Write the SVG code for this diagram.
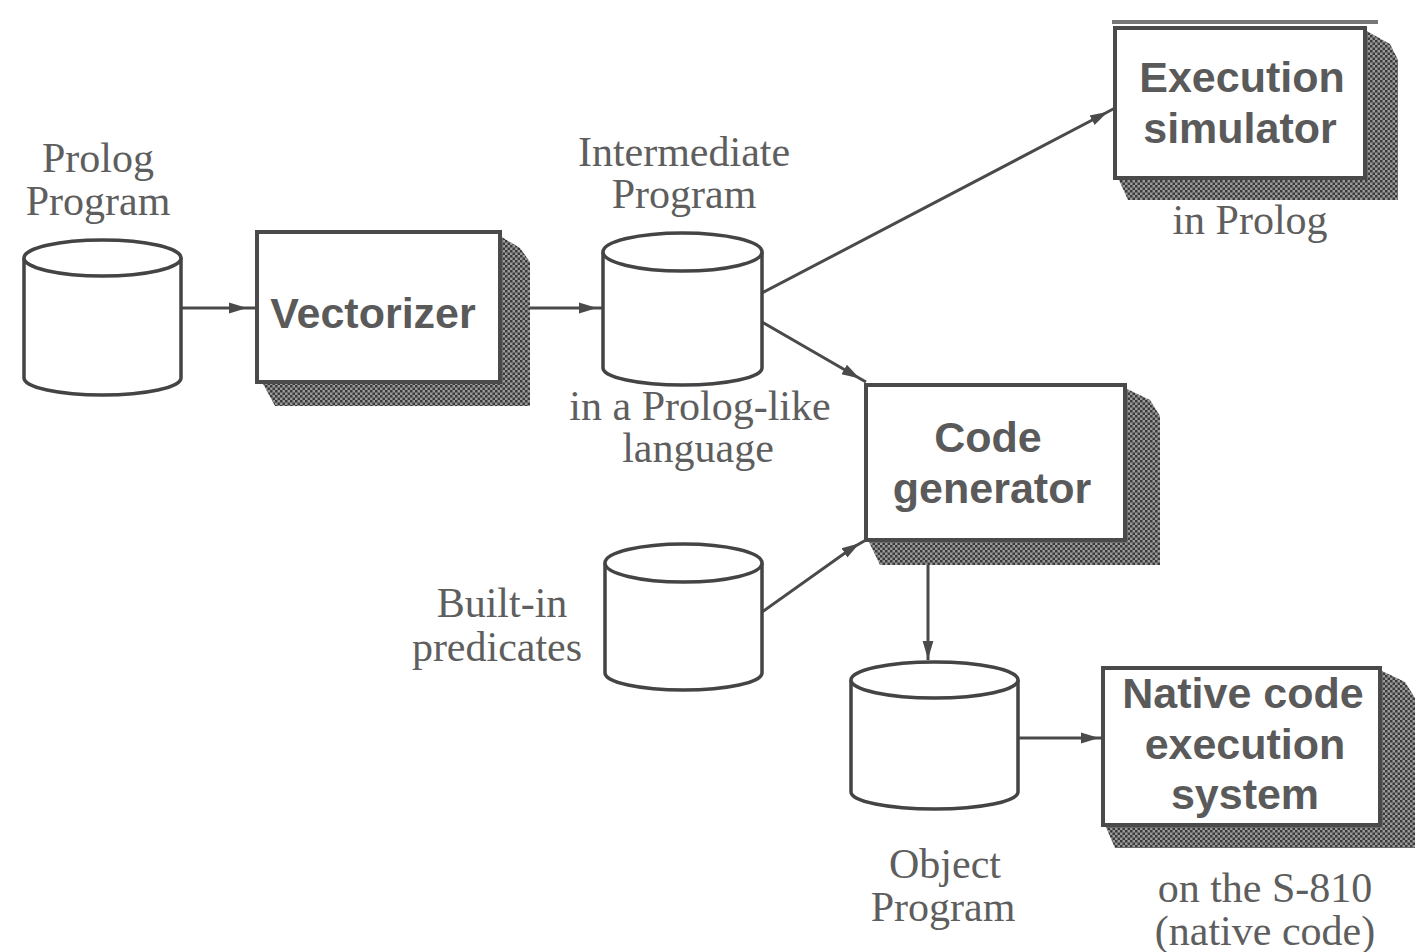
<svg xmlns="http://www.w3.org/2000/svg" width="1418" height="952" viewBox="0 0 1418 952">
<style>
.cyl{fill:#fff;stroke:#444;stroke-width:3.5}
.box{fill:#fff;stroke:#4a4a4a;stroke-width:4}
.shadow{fill:url(#dots);stroke:none}
.con{fill:none;stroke:#4a4a4a;stroke-width:3;marker-mid:url(#ah)}
.serif{font-family:"Liberation Serif","DejaVu Serif",serif;font-size:42px;fill:#5e5e5e;text-anchor:middle}
.sans{font-family:"Liberation Sans",Arial,sans-serif;font-size:43px;font-weight:bold;fill:#5a5a5a;text-anchor:middle}
</style>
<defs>
<pattern id="dots" width="5" height="5" patternUnits="userSpaceOnUse">
<rect width="5" height="5" fill="#9a9a9a"/>
<rect width="2.5" height="2.5" fill="#3a3a3a"/>
<rect x="2.5" y="2.5" width="2.5" height="2.5" fill="#3a3a3a"/>
</pattern>
<marker id="ah" viewBox="0 0 10 10" refX="5" refY="5" markerWidth="6" markerHeight="6" orient="auto" markerUnits="strokeWidth">
<path d="M0,2 L10,5 L0,8 Z" fill="#4a4a4a"/>
</marker>
</defs>
<rect width="1418" height="952" fill="#fff"/>

<g id="connectors">
<path class="con" d="M181,308 L238,308 L257,308"/>
<path class="con" d="M500,308 L588,308 L603,308"/>
<path class="con" d="M762,293 L1100,116 L1115,108"/>
<path class="con" d="M762,322 L852,374 L866,382"/>
<path class="con" d="M762,612 L852,548 L866,540"/>
<path class="con" d="M928,540 L928,650 L928,660"/>
<path class="con" d="M1018,738 L1090,738 L1103,738"/>
</g>

<g id="prolog-program">
<path class="cyl" d="M24,258 L24,378 A78.5,17 0 0 0 181,378 L181,258"/>
<ellipse class="cyl" cx="102.5" cy="258" rx="78.5" ry="18"/>
<text class="serif" x="98" y="172">Prolog</text>
<text class="serif" x="98" y="215">Program</text>
</g>

<g id="vectorizer">
<polygon class="shadow" points="500,236 520,248 530,262 530,406 275,406 262,382"/>
<rect class="box" x="257" y="232" width="243" height="150"/>
<text class="sans" x="373" y="328">Vectorizer</text>
</g>

<g id="intermediate-program">
<path class="cyl" d="M603,252 L603,368 A79.5,17 0 0 0 762,368 L762,252"/>
<ellipse class="cyl" cx="682.5" cy="252" rx="79.5" ry="19"/>
<text class="serif" x="684" y="166">Intermediate</text>
<text class="serif" x="684" y="208">Program</text>
<text class="serif" x="700" y="420">in a Prolog-like</text>
<text class="serif" x="698" y="462">language</text>
</g>

<g id="execution-simulator">
<line x1="1112" y1="22" x2="1378" y2="22" stroke="#777" stroke-width="4"/>
<polygon class="shadow" points="1365,30 1390,44 1398,60 1398,200 1128,200 1118,178"/>
<rect class="box" x="1115" y="28" width="250" height="150"/>
<text class="sans" x="1242" y="92">Execution</text>
<text class="sans" x="1240" y="143">simulator</text>
<text class="serif" x="1250" y="234">in Prolog</text>
</g>

<g id="code-generator">
<polygon class="shadow" points="1125,388 1150,400 1160,416 1160,565 880,565 868,540"/>
<rect class="box" x="866" y="385" width="259" height="155"/>
<text class="sans" x="988" y="452">Code</text>
<text class="sans" x="992" y="503">generator</text>
</g>

<g id="built-in-predicates">
<path class="cyl" d="M605,563 L605,673 A78.5,17 0 0 0 762,673 L762,563"/>
<ellipse class="cyl" cx="683.5" cy="563" rx="78.5" ry="19"/>
<text class="serif" x="502" y="617">Built-in</text>
<text class="serif" x="497" y="661">predicates</text>
</g>

<g id="object-program">
<path class="cyl" d="M851,680 L851,792 A83.5,17 0 0 0 1018,792 L1018,680"/>
<ellipse class="cyl" cx="934.5" cy="680" rx="83.5" ry="18"/>
<text class="serif" x="945" y="878">Object</text>
<text class="serif" x="943" y="921">Program</text>
</g>

<g id="native-code-execution-system">
<polygon class="shadow" points="1380,670 1405,682 1415,698 1415,848 1115,848 1105,825"/>
<rect class="box" x="1103" y="668" width="277" height="157"/>
<text class="sans" x="1243" y="708">Native code</text>
<text class="sans" x="1245" y="759">execution</text>
<text class="sans" x="1245" y="809">system</text>
<text class="serif" x="1265" y="902">on the S-810</text>
<text class="serif" x="1265" y="945">(native code)</text>
</g>
</svg>
